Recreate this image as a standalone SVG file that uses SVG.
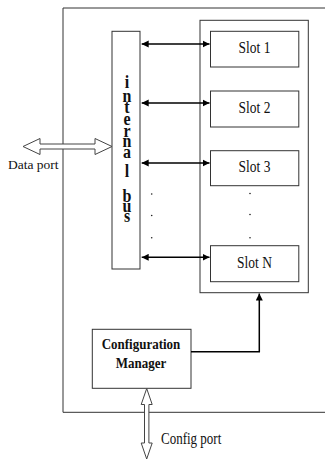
<svg xmlns="http://www.w3.org/2000/svg" width="325" height="460" viewBox="0 0 325 460">
<style>
.box{fill:#fff;stroke:#333;stroke-width:1}
.ln{fill:none;stroke:#000;stroke-width:1.5}
.hol{fill:#fff;stroke:#444;stroke-width:1}
.t{font-family:'Liberation Serif','Times New Roman',serif;fill:#111}
.b{font-weight:bold}
.dot{fill:#222}
</style>
<defs>
<marker id="ah" viewBox="0 0 10 10" refX="10" refY="5" markerWidth="7" markerHeight="7.4" markerUnits="userSpaceOnUse" orient="auto-start-reverse">
<path d="M0,0 L10,5 L0,10 z" fill="#000"/>
</marker>
</defs>
<rect width="325" height="460" fill="#fff"/>
<g id="frame">
<path d="M325,8 H63 V412.3 H325" fill="none" stroke="#333" stroke-width="1"/>
</g>
<g id="slot-container">
<rect class="box" x="200" y="20.3" width="108.3" height="272.4"/>
</g>
<g id="internal-bus">
<rect class="box" x="112" y="31.3" width="28" height="237.7"/>
<g class="t b" font-family="Liberation Serif, serif" font-size="16" text-anchor="middle">
<text transform="translate(127,88) scale(1,1.15)">i</text>
<text transform="translate(127,101.5) scale(1,1.15)">n</text>
<text transform="translate(127,113) scale(1,1.15)">t</text>
<text transform="translate(127,125) scale(1,1.15)">e</text>
<text transform="translate(127,136.5) scale(1,1.15)">r</text>
<text transform="translate(127,147) scale(1,1.15)">n</text>
<text transform="translate(127,158) scale(1,1.15)">a</text>
<text transform="translate(127,177) scale(1,1.15)">l</text>
<text transform="translate(127,201.5) scale(1,1.15)">b</text>
<text transform="translate(127,212) scale(1,1.15)">u</text>
<text transform="translate(127,222) scale(1,1.15)">s</text>
</g>
</g>
<g id="slot1">
<rect class="box" x="210.5" y="31.3" width="88.3" height="35.7"/>
<text class="t" font-family="Liberation Serif, serif" font-size="13.5" text-anchor="middle" transform="translate(254.5,53.3) scale(1,1.3)">Slot 1</text>
</g>
<g id="slot2">
<rect class="box" x="210.5" y="91" width="88.3" height="36"/>
<text class="t" font-family="Liberation Serif, serif" font-size="13.5" text-anchor="middle" transform="translate(254.5,113) scale(1,1.3)">Slot 2</text>
</g>
<g id="slot3">
<rect class="box" x="210.5" y="150.7" width="88.3" height="35"/>
<text class="t" font-family="Liberation Serif, serif" font-size="13.5" text-anchor="middle" transform="translate(254.5,171.5) scale(1,1.3)">Slot 3</text>
</g>
<g id="slotN">
<rect class="box" x="210.5" y="245.7" width="88.3" height="36"/>
<text class="t" font-family="Liberation Serif, serif" font-size="13.5" text-anchor="middle" transform="translate(254.5,268) scale(1,1.3)">Slot N</text>
</g>
<g id="config-manager">
<rect class="box" x="92.3" y="329.3" width="98.7" height="59"/>
<text class="t b" font-family="Liberation Serif, serif" font-size="13" text-anchor="middle" transform="translate(141,349) scale(1,1.15)">Configuration</text>
<text class="t b" font-family="Liberation Serif, serif" font-size="13" text-anchor="middle" transform="translate(141,367.5) scale(1,1.15)">Manager</text>
</g>
<g id="dots">
<circle class="dot" cx="151.7" cy="194" r="0.8"/>
<circle class="dot" cx="151.7" cy="215.5" r="0.8"/>
<circle class="dot" cx="151.7" cy="237.7" r="0.8"/>
<circle class="dot" cx="250" cy="193.5" r="0.8"/>
<circle class="dot" cx="250" cy="214.5" r="0.8"/>
<circle class="dot" cx="250" cy="237.7" r="0.8"/>
</g>
<g id="connectors">
<line class="ln" x1="141.7" y1="44" x2="209.5" y2="44" marker-start="url(#ah)" marker-end="url(#ah)"/>
<line class="ln" x1="141.7" y1="103" x2="209.5" y2="103" marker-start="url(#ah)" marker-end="url(#ah)"/>
<line class="ln" x1="141.7" y1="163" x2="209.5" y2="163" marker-start="url(#ah)" marker-end="url(#ah)"/>
<line class="ln" x1="141.7" y1="257.3" x2="209.5" y2="257.3" marker-start="url(#ah)" marker-end="url(#ah)"/>
<path class="ln" d="M191,351.7 H259.3 V293.5" marker-end="url(#ah)"/>
<polygon class="hol" points="23,146.5 40,138.5 40,144 95,144 95,138.5 112,146.5 95,154.5 95,149 40,149 40,154.5"/>
<polygon class="hol" points="146.7,388.5 152.2,404.5 148.9,404.5 148.9,443 152.2,443 146.7,459 141.2,443 144.5,443 144.5,404.5 141.2,404.5"/>
</g>
<g id="labels">
<text class="t" font-family="Liberation Serif, serif" font-size="13.5" x="8" y="169">Data port</text>
<text class="t" font-family="Liberation Serif, serif" font-size="13" transform="translate(161,444) scale(1,1.25)">Config port</text>
</g>
</svg>
